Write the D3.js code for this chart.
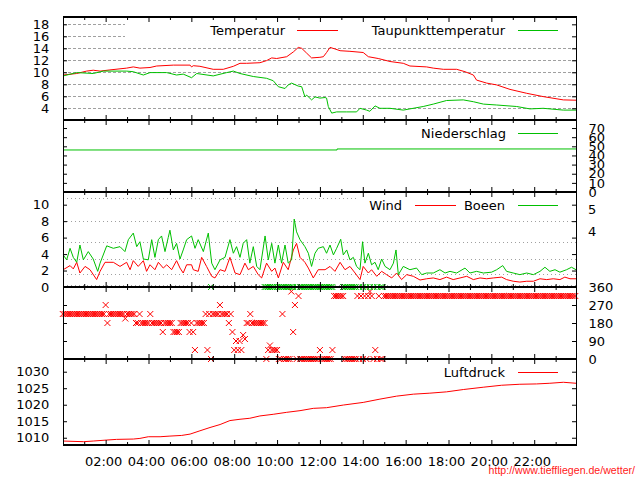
<!DOCTYPE html>
<html><head><meta charset="utf-8">
<script src="https://cdn.jsdelivr.net/npm/d3@7"></script>
<style>
body{margin:0;background:#fff}
svg{display:block}
text{font-family:"DejaVu Sans",sans-serif;font-size:13px;fill:#000}
</style>
</head><body>
<svg id="c" width="640" height="480"></svg>
<script>
// ---------- data ----------
const hourMajor = [2,4,6,8,10,12,14,16,18,20,22];
const hourMinor = [1,3,5,7,9,11,13,15,17,19,21,23];
const tempTicks = [4,6,8,10,12,14,16,18];
const precipTicks = [0,10,20,30,40,50,60,70];
const windTicks = [0,2,4,6,8,10];
const bftBounds = [0.3,1.6,3.4,5.5,8.0,10.8];
const bftLabelPos = [9.4,6.75];
const bftLabels = ["5","4"];
const dirTicks = [0,90,180,270,360];
const pressTicks = [1010,1015,1020,1025,1030];

const tempT = [0.02,0.65,1.11,1.42,1.74,2.20,2.98,3.29,3.60,4.07,4.38,5.16,5.94,6.01,6.09,6.40,7.02,7.49,7.96,8.27,8.58,9.20,9.51,9.75,9.98,10.45,10.76,10.99,11.15,11.38,11.61,12.0,12.16,12.31,12.47,12.70,12.94,13.40,14.02,14.26,14.72,15.27,15.89,16.20,16.98,17.29,17.76,18.38,18.77,19.16,19.31,19.78,20.25,20.87,21.65,22.42,23.36,23.95];
const tempV = [9.55,9.8,10.2,10.35,10.2,10.4,10.7,10.9,10.7,10.8,11.05,11.2,11.2,10.9,11.1,11.0,10.5,10.5,11.0,11.5,11.5,11.6,11.95,12.4,12.3,12.6,13.4,14.15,14.0,13.2,12.4,12.5,12.6,13.3,14.15,13.9,13.6,13.5,13.3,12.6,12.3,11.8,11.5,11.05,10.9,10.7,10.5,10.5,10.1,9.55,8.7,8.2,7.9,7.15,6.5,5.95,5.4,5.35];

const dewT = [0.02,0.65,1.42,1.89,2.98,3.29,3.76,4.07,4.85,5.31,5.62,6.01,6.25,7.02,7.65,7.96,8.27,8.89,9.51,9.82,10.06,10.37,10.52,10.68,10.99,11.15,11.30,11.38,11.61,11.77,12.0,12.24,12.31,12.39,12.55,12.78,13.25,13.71,13.87,14.18,14.33,14.57,14.80,15.27,15.89,16.20,16.82,17.29,17.91,18.69,19.16,19.63,20.25,21.18,21.80,22.42,23.36,23.95];
const dewV = [9.4,9.95,9.8,10.2,10.2,10.1,9.55,9.95,9.95,9.55,9.7,9.1,9.8,9.4,9.95,10.2,9.8,9.3,9.0,8.6,7.6,7.3,7.9,8.2,7.7,7.6,5.9,6.2,5.4,5.9,5.7,5.8,5.7,4.3,3.2,3.4,3.4,3.4,4.0,3.7,3.5,4.4,4.0,4.0,3.7,3.9,4.3,4.7,5.3,5.4,5.1,4.7,4.55,4.3,3.9,4.0,3.7,3.7];

const precipT = [0.01,12.8,23.95];
const precipV = [46.0,47.1,47.1];

const windT = [0.02,0.34,0.49,0.65,0.80,1.04,1.27,1.58,1.74,1.97,2.36,2.67,2.98,3.14,3.29,3.52,3.76,3.91,4.07,4.30,4.46,4.69,4.85,5.08,5.31,5.47,5.62,5.78,6.01,6.09,6.32,6.48,6.71,6.95,7.10,7.34,7.57,7.80,8.04,8.27,8.50,8.66,8.89,9.12,9.28,9.51,9.75,9.90,10.06,10.29,10.52,10.76,10.91,11.07,11.30,11.46,11.69,11.92,12.24,12.47,12.70,12.94,13.17,13.40,13.64,13.87,14.02,14.26,14.41,14.65,14.88,15.11,15.35,15.58,15.81,16.05,16.36,16.67,16.98,17.29,17.60,17.91,18.22,18.54,18.85,19.16,19.47,19.78,20.09,20.48,20.71,21.02,21.33,21.65,21.96,22.27,22.58,22.89,23.20,23.43,23.67,23.95];
const windV = [2.1,2.6,2.2,3.0,1.7,2.5,2.1,0.9,1.9,3.0,3.0,2.5,3.0,2.1,3.2,2.5,3.2,1.9,2.7,2.1,3.0,2.3,2.7,2.1,3.2,2.3,1.7,2.7,2.7,2.1,1.9,3.6,2.5,1.3,1.1,2.1,1.9,3.6,1.7,1.5,2.9,2.1,2.5,1.5,1.1,2.9,1.9,2.3,1.1,3.0,2.1,4.5,5.3,3.6,3.0,2.3,1.1,2.1,2.1,2.5,1.9,3.0,2.1,2.5,1.7,0.9,2.5,1.7,2.1,1.3,1.9,1.5,1.1,1.7,0.9,1.5,1.3,0.85,1.0,1.1,0.9,1.2,0.9,1.1,1.3,0.9,1.1,1.0,1.1,1.2,0.9,0.7,0.6,0.7,0.7,1.0,0.9,1.0,0.9,1.2,1.0,1.0];

const gustT = [0.02,0.18,0.34,0.49,0.65,0.80,0.96,1.19,1.42,1.63,1.74,2.05,2.36,2.67,2.90,3.06,3.29,3.45,3.60,3.76,3.99,4.15,4.30,4.46,4.61,4.77,4.92,5.00,5.16,5.31,5.47,5.62,5.78,6.01,6.17,6.32,6.56,6.79,6.95,7.10,7.34,7.57,7.80,7.96,8.11,8.27,8.42,8.58,8.73,8.89,9.05,9.20,9.44,9.59,9.75,9.90,10.06,10.21,10.37,10.52,10.68,10.80,10.91,11.07,11.30,11.46,11.61,11.77,11.92,12.16,12.31,12.47,12.63,12.78,12.97,13.09,13.25,13.40,13.56,13.71,13.87,13.99,14.10,14.26,14.41,14.57,14.72,14.88,15.04,15.27,15.43,15.55,15.66,15.89,16.20,16.51,16.75,16.98,17.29,17.60,17.84,18.07,18.38,18.77,19.00,19.31,19.63,20.01,20.25,20.53,20.71,21.02,21.33,21.65,21.96,22.27,22.50,22.73,22.97,23.20,23.51,23.74,23.95];
const gustV = [3.9,3.3,4.7,3.6,3.0,5.1,3.3,4.3,3.4,1.9,2.9,5.0,4.7,4.9,4.3,5.75,6.55,4.9,5.5,3.4,3.3,5.75,3.6,5.75,6.2,4.3,6.0,6.9,4.5,5.3,3.4,4.5,5.75,6.2,4.7,5.75,4.3,6.55,2.9,2.1,3.3,3.6,5.75,4.1,4.9,3.6,5.3,5.75,2.9,4.9,2.5,2.1,6.2,3.3,5.3,2.9,5.1,2.9,5.1,2.9,3.3,8.25,6.7,5.75,4.9,4.1,2.5,4.1,4.7,4.9,4.1,5.1,3.9,4.7,5.8,3.9,4.5,3.3,3.6,2.5,2.1,5.5,2.9,4.1,2.7,3.0,2.1,3.4,2.5,2.1,2.9,4.5,1.5,2.5,2.1,2.3,1.5,1.7,1.7,2.1,1.7,1.9,1.7,2.3,1.7,1.9,1.7,1.8,2.1,2.6,1.9,1.7,1.5,1.7,1.5,1.9,2.4,1.9,2.1,1.8,2.1,2.4,2.1];

// wind direction, one value every 5 minutes (12 per hour)
const windDirV = [
225,225,225,225,225,225,225,225,225,225,225,225,
225,225,225,225,225,225,225,225,225,225,225,225,
270,180,225,225,225,225,225,225,225,225,225,202.5,
225,225,225,225,225,180,180,225,180,180,180,180,
180,225,180,180,180,180,180,180,135,180,180,180,
180,180,135,135,135,135,180,180,180,180,180,135,
180,135,45,180,180,180,180,180,225,45,225,0,
225,225,225,225,270,225,225,225,225,180,225,135,
45,90,45,90,45,120,100,180,180,225,180,180,
180,180,180,180,180,180,0,45,67.5,45,45,45,
45,0,0,225,0,0,0,0,337.5,135,270,0,
315,0,0,0,0,0,0,0,0,0,0,0,
45,0,0,0,0,0,0,45,315,315,315,315,
315,315,0,0,0,0,0,0,0,315,0,315,
0,315,0,315,337.5,315,0,45,0,315,0,0,
315,315,315,315,315,315,315,315,315,315,315,315,
315,315,315,315,315,315,315,315,315,315,315,315,
315,315,315,315,315,315,315,315,315,315,315,315,
315,315,315,315,315,315,315,315,315,315,315,315,
315,315,315,315,315,315,315,315,315,315,315,315,
315,315,315,315,315,315,315,315,315,315,315,315,
315,315,315,315,315,315,315,315,315,315,315,315,
315,315,315,315,315,315,315,315,315,315,315,315,
315,315,315,315,315,315,315,315,315,315,315,315];
const windDirT = windDirV.map((d,i)=>i/12);

const gustDirT = [6.92,9.42,9.5,9.58,9.67,9.75,9.83,10.0,10.08,10.17,10.25,10.33,10.42,10.5,10.58,10.67,10.75,10.92,11.08,11.17,11.25,11.33,11.42,11.5,11.58,11.67,11.75,11.83,11.92,12.0,12.08,12.17,12.25,12.33,12.42,12.5,12.58,13.08,13.17,13.25,13.33,13.42,13.5,13.58,13.67,13.83,14.0,14.17,14.33,14.5,14.67,14.83,14.92];
const gustDirV = [360,360,360,360,360,360,360,360,360,360,360,360,360,360,360,360,360,360,360,360,360,360,360,360,360,360,360,360,360,360,360,360,360,360,360,360,360,360,360,360,360,360,360,360,360,360,360,360,360,360,360,360,360];

const pressT = [0.02,0.96,1.42,2.05,2.51,3.29,3.60,3.99,4.54,5.0,5.55,5.94,6.40,6.87,7.34,7.80,8.27,8.73,9.20,9.82,10.45,11.07,11.69,12.31,13.09,14.02,14.80,15.58,16.36,17.13,17.91,18.69,19.62,20.48,21.33,22.11,22.73,23.36,23.95];
const pressV = [1009.0,1008.8,1009.0,1009.3,1009.5,1009.6,1009.8,1010.3,1010.3,1010.5,1010.7,1011.1,1012.1,1013.1,1014.0,1015.2,1015.6,1015.9,1016.6,1017.1,1017.7,1018.2,1018.9,1019.1,1019.9,1020.7,1021.7,1022.6,1023.2,1023.5,1023.9,1024.6,1025.3,1025.9,1026.2,1026.3,1026.5,1026.8,1026.5];

// ---------- chart ----------
const RED="#ff0000", GREEN="#00c000", GRID="#a0a0a0";
const L=63, R=576;
const svg = d3.select("#c");
const x = d3.scaleLinear().domain([0.01,23.95]).range([L,R]);
const yT = d3.scaleLinear().domain([2.05,19.22]).range([120,17]);
const yP = d3.scaleLinear().domain([0,78.8]).range([192,120]);
const yW = d3.scaleLinear().domain([0,11.54]).range([287,192]);
const yD = d3.scaleLinear().domain([0,360]).range([359,287]);
const yL = d3.scaleLinear().domain([1007.8,1033.85]).range([445,359]);
const edges = [17,120,192,287,359,445];
const fmtInt = d3.format("d");

const zip = (t,v)=>t.map((d,i)=>[d,v[i]]);

// grids
svg.append("g").selectAll("line").data(tempTicks).join("line")
  .attr("x1",L).attr("x2",R).attr("y1",d=>Math.round(yT(d))+0.5).attr("y2",d=>Math.round(yT(d))+0.5)
  .attr("stroke",GRID).attr("stroke-width",1).attr("stroke-dasharray","3,2");
svg.append("g").selectAll("line").data(bftBounds).join("line")
  .attr("x1",L).attr("x2",R).attr("y1",d=>Math.round(yW(d))+0.5).attr("y2",d=>Math.round(yW(d))+0.5)
  .attr("stroke",GRID).attr("stroke-width",1).attr("stroke-dasharray","1,3");

// legend boxes (opaque)
svg.append("rect").attr("x",125).attr("y",18).attr("width",R-125).attr("height",25).attr("fill","#fff");
svg.append("rect").attr("x",357).attr("y",193).attr("width",R-357).attr("height",21).attr("fill","#fff");

// lines
function drawLine(data, ys, color, curve){
  const ln = d3.line().x(d=>x(d[0])).y(d=>ys(d[1]));
  if(curve) ln.curve(curve);
  svg.append("path").datum(data).attr("d",ln).attr("fill","none").attr("stroke",color).attr("stroke-width",1);
}
drawLine(zip(tempT,tempV), yT, RED);
drawLine(zip(dewT,dewV), yT, GREEN);
drawLine(zip(precipT,precipV), yP, GREEN, d3.curveStepAfter);
drawLine(zip(windT,windV), yW, RED);
drawLine(zip(gustT,gustV), yW, GREEN);
drawLine(zip(pressT,pressV), yL, RED);

// direction markers
function drawX(data, color){
  svg.append("g").selectAll("path").data(data).join("path")
    .attr("transform",d=>`translate(${x(d[0])},${yD(d[1])})`)
    .attr("d","M-3,-3L3,3M-3,3L3,-3").attr("stroke",color).attr("stroke-width",1).attr("fill","none");
}
drawX(zip(windDirT,windDirV), RED);
drawX(zip(gustDirT,gustDirV), GREEN);

// legends
function legend(label, textRight, cy, color, sx1, sx2){
  svg.append("text").attr("x",textRight).attr("y",cy+4.7).attr("text-anchor","end").text(label);
  svg.append("line").attr("x1",sx1).attr("x2",sx2).attr("y1",cy+0.5).attr("y2",cy+0.5).attr("stroke",color).attr("stroke-width",1);
}
legend("Temperatur",285,30,RED,297,338);
legend("Taupunkttemperatur",505,30,GREEN,518,558);
legend("Niederschlag",506,133,GREEN,518,558);
legend("Wind",402,205,RED,415,456);
legend("Boeen",505,205,GREEN,518,558);
legend("Luftdruck",505,372,RED,518,558);

// borders
svg.append("line").attr("x1",L+0.5).attr("x2",L+0.5).attr("y1",17).attr("y2",445).attr("stroke","#000");
svg.append("line").attr("x1",R+0.5).attr("x2",R+0.5).attr("y1",17).attr("y2",445).attr("stroke","#000");
svg.append("g").selectAll("line").data(edges).join("line")
  .attr("x1",L).attr("x2",R+1).attr("y1",d=>d).attr("y2",d=>d).attr("stroke","#000").attr("stroke-width",2);

// x ticks on every panel
function clean(g){ g.select(".domain").remove(); g.selectAll("line").attr("stroke","#000"); return g; }
for(let p=0;p<5;p++){
  const top=edges[p], bot=edges[p+1];
  [[hourMajor,5],[hourMinor,3]].forEach(([vals,len])=>{
    svg.append("g").attr("transform",`translate(0,${top})`)
      .call(d3.axisTop(x).tickValues(vals).tickSize(-len).tickFormat("")).call(clean);
    svg.append("g").attr("transform",`translate(0,${bot})`)
      .call(d3.axisBottom(x).tickValues(vals).tickSize(-len).tickFormat("")).call(clean);
  });
}
// x labels
const xl = svg.append("g").attr("transform","translate(0,445)")
  .call(d3.axisBottom(x).tickValues(hourMajor).tickSize(0).tickPadding(12).tickFormat(h=>d3.format("02d")(h)+":00")).call(clean);
xl.selectAll("text").attr("dx",-2.5);

function styleText(g){ g.attr("font-family",null).attr("font-size",null); g.selectAll("text").attr("fill","#000"); return g; }

// y axes
function yAxes(scale, vals, leftLabels, rightVals, rightLabels){
  const la = d3.axisLeft(scale).tickValues(vals).tickSize(-4).tickPadding(13.7).tickFormat(leftLabels ? fmtInt : "");
  svg.append("g").attr("transform",`translate(${L},0)`).call(la).call(clean).call(styleText);
  const ra = d3.axisRight(scale).tickValues(rightVals||vals).tickSize(-4).tickPadding(12.5).tickFormat(rightLabels ? fmtInt : "");
  svg.append("g").attr("transform",`translate(${R},0)`).call(ra).call(clean).call(styleText);
}
yAxes(yT, tempTicks, true, null, false);
yAxes(yP, precipTicks.slice(1), false, precipTicks, true);
yAxes(yW, windTicks, true, null, false);
yAxes(yD, dirTicks.slice(1,4), false, dirTicks, true);
yAxes(yL, pressTicks, true, null, false);

// Beaufort labels on the right of the wind panel
svg.append("g").selectAll("text").data(bftLabelPos).join("text")
  .attr("x",588).attr("y",d=>yW(d)+4.7).text((d,i)=>bftLabels[i]);

// url
svg.append("text").attr("x",635).attr("y",474).attr("text-anchor","end")
  .style("font-family","'Liberation Sans',Arial,sans-serif").style("font-size","10.6px").style("fill","#ff2020")
  .text("http://www.tieffliegen.de/wetter/");
</script>
</body></html>
